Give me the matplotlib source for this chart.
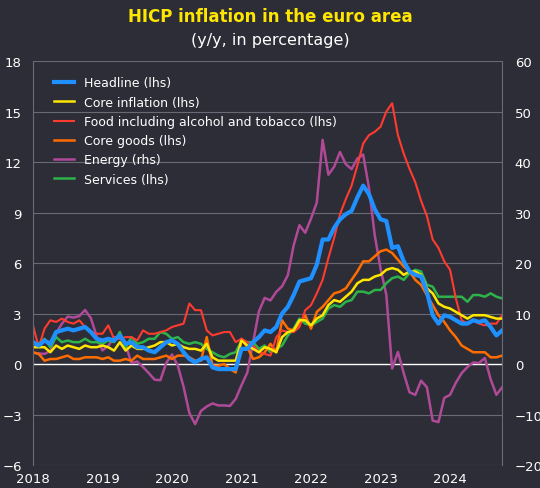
import matplotlib
matplotlib.use("Agg")
import matplotlib.pyplot as plt
import numpy as np
import pandas as pd

dates = pd.date_range("2018-01-01", "2024-10-01", freq="MS")

headline = [1.3,1.1,1.4,1.2,1.9,2.0,2.1,2.0,2.1,2.2,1.9,1.5,
            1.4,1.5,1.4,1.7,1.2,1.3,1.0,1.0,0.8,0.7,1.0,1.3,
            1.4,1.2,0.7,0.3,0.1,0.3,0.4,-0.2,-0.3,-0.3,-0.3,-0.3,
            0.9,0.9,1.3,1.6,2.0,1.9,2.2,3.0,3.4,4.1,4.9,5.0,
            5.1,5.9,7.4,7.4,8.1,8.6,8.9,9.1,9.9,10.6,10.1,9.2,
            8.6,8.5,6.9,7.0,6.1,5.5,5.3,5.2,4.3,2.9,2.4,2.9,
            2.8,2.6,2.4,2.4,2.6,2.5,2.6,2.2,1.7,2.0]
core = [1.0,1.0,1.0,0.7,1.1,0.9,1.1,1.0,0.9,1.1,1.0,1.0,
        1.1,1.0,0.8,1.3,0.8,1.1,0.9,0.9,1.0,1.1,1.3,1.3,
        1.1,1.2,1.0,0.9,0.9,0.8,1.2,0.4,0.2,0.2,0.2,0.2,
        1.4,1.1,0.9,0.7,1.0,0.9,0.7,1.6,1.9,2.0,2.6,2.6,
        2.3,2.7,2.9,3.5,3.8,3.7,4.0,4.3,4.8,5.0,5.0,5.2,
        5.3,5.6,5.7,5.6,5.3,5.5,5.5,5.3,4.5,4.2,3.6,3.4,
        3.3,3.1,2.9,2.7,2.9,2.9,2.9,2.8,2.7,2.7]
food = [2.3,1.0,2.1,2.6,2.5,2.7,2.5,2.4,2.6,2.2,1.9,1.8,
        1.8,2.3,1.5,1.5,1.6,1.6,1.4,2.0,1.8,1.8,1.9,2.0,
        2.2,2.3,2.4,3.6,3.2,3.2,2.0,1.7,1.8,1.9,1.9,1.3,
        1.5,1.3,1.1,0.7,0.6,0.5,1.6,2.0,1.9,1.9,2.2,3.2,
        3.5,4.2,5.0,6.3,7.5,8.9,9.8,10.6,11.8,13.1,13.6,13.8,
        14.1,15.0,15.5,13.6,12.5,11.6,10.8,9.7,8.8,7.4,6.9,6.1,
        5.6,3.9,2.6,2.4,2.6,2.4,2.3,2.4,2.4,2.9]
core_goods = [0.7,0.6,0.2,0.3,0.3,0.4,0.5,0.3,0.3,0.4,0.4,0.4,
              0.3,0.4,0.2,0.2,0.3,0.2,0.5,0.3,0.3,0.3,0.4,0.5,
              0.3,0.5,0.5,0.4,0.2,0.2,1.6,-0.1,-0.1,0.0,-0.3,-0.5,
              1.5,1.0,0.3,0.4,0.7,1.2,0.7,2.6,2.1,2.0,2.4,2.9,
              2.1,3.1,3.4,3.8,4.2,4.3,4.5,5.0,5.5,6.1,6.1,6.4,
              6.7,6.8,6.6,6.2,5.8,5.5,5.0,4.7,4.1,3.5,2.9,2.5,
              2.0,1.6,1.1,0.9,0.7,0.7,0.7,0.4,0.4,0.5]
energy = [2.2,2.1,2.0,2.6,6.1,8.0,9.4,9.2,9.5,10.7,9.1,5.5,
          2.7,3.6,5.3,5.3,3.8,0.2,0.5,-0.6,-1.8,-3.1,-3.2,0.2,
          1.9,-0.3,-4.5,-9.7,-11.9,-9.3,-8.4,-7.8,-8.2,-8.2,-8.3,-6.9,
          -4.2,-1.7,4.3,10.4,13.1,12.6,14.3,15.4,17.6,23.5,27.5,26.0,
          28.8,32.0,44.4,37.5,39.1,42.0,39.6,38.6,40.7,41.5,34.9,25.5,
          18.9,13.7,-0.9,2.4,-1.8,-5.6,-6.1,-3.3,-4.6,-11.2,-11.5,-6.7,
          -6.1,-3.7,-1.8,-0.6,0.3,0.2,1.2,-3.0,-6.1,-4.6]
services = [1.3,1.2,1.5,1.0,1.6,1.3,1.4,1.3,1.3,1.5,1.3,1.3,
            1.2,1.4,1.3,1.9,1.0,1.6,1.2,1.3,1.5,1.5,1.9,1.8,
            1.5,1.6,1.3,1.2,1.3,1.2,0.9,0.7,0.5,0.4,0.6,0.7,
            1.4,1.3,1.3,0.9,1.1,0.7,0.9,1.1,1.7,2.1,2.7,2.4,
            2.3,2.5,2.7,3.3,3.5,3.4,3.7,3.8,4.3,4.3,4.2,4.4,
            4.4,4.8,5.1,5.2,5.0,5.4,5.6,5.5,4.7,4.6,4.0,4.0,
            4.0,4.0,4.0,3.7,4.1,4.1,4.0,4.2,4.0,3.9]

left_ticks = [-6, -3, 0, 3, 6, 9, 12, 15, 18]
right_ticks = [-20, -10, 0, 10, 20, 30, 40, 50, 60]
year_labels = ["2018", "2019", "2020", "2021", "2022", "2023", "2024"]

bg = "#2d2d37"
grid = "#6a6a74"
fig = plt.figure(figsize=(5.4, 4.89), dpi=100, facecolor=bg)
ax = fig.add_axes([0.061, 0.047, 0.869, 0.826], facecolor=bg)
ax2 = ax.twinx()

ax.set_ylim(-6, 18)
ax2.set_ylim(-20, 60)
ax.set_yticks(left_ticks)
ax2.set_yticks(right_ticks)
for t in left_ticks:
    if t != 0:
        ax2.axhline((t + 6) / 24 * 80 - 20, color=grid, lw=0.8, zorder=0)
ax2.axhline(0, color="white", lw=1.0, zorder=0.5)

x = np.arange(len(dates))
le, = ax2.plot(x, energy, color="#b04a98", lw=1.8, label="Energy (rhs)")
ax2.set_zorder(1)
ax.set_zorder(2)
ax.patch.set_visible(False)
ls = ax.plot(x, services, color="#2db34a", lw=1.8, label="Services (lhs)")[0]
lcg = ax.plot(x, core_goods, color="#ff6d00", lw=1.8, label="Core goods (lhs)")[0]
lf = ax.plot(x, food, color="#ff3b30", lw=1.5, label="Food including alcohol and tobacco (lhs)")[0]
lc = ax.plot(x, core, color="#ffe600", lw=1.8, label="Core inflation (lhs)")[0]
lh = ax.plot(x, headline, color="#1e90ff", lw=3.0, label="Headline (lhs)")[0]

ax.set_xlim(0, len(dates) - 1)
ax.set_xticks(np.arange(0, len(dates), 12))
ax.set_xticklabels(year_labels)

for a in (ax, ax2):
    for s in a.spines.values():
        s.set_visible(False)
    a.tick_params(colors="white", labelsize=9.5, length=0)
ax.spines["left"].set_visible(True)
ax.spines["left"].set_color(grid)
ax2.spines["right"].set_visible(True)
ax2.spines["right"].set_color(grid)
ax.tick_params(axis="x", pad=5)
ax.tick_params(axis="y", pad=8)
ax2.tick_params(axis="y", pad=9)

leg = ax.legend(handles=[lh, lc, lf, lcg, le, ls], loc="upper left",
                bbox_to_anchor=(0.02, 0.99), frameon=False, fontsize=9,
                labelcolor="white", handlelength=1.6, labelspacing=0.5)

fig.text(0.5, 0.965, "HICP inflation in the euro area", color="#ffe600",
         fontsize=12, fontweight="bold", ha="center", va="center")
fig.text(0.5, 0.918, "(y/y, in percentage)", color="white",
         fontsize=11.5, ha="center", va="center")

fig.savefig("out.png", dpi=100, facecolor=bg)
